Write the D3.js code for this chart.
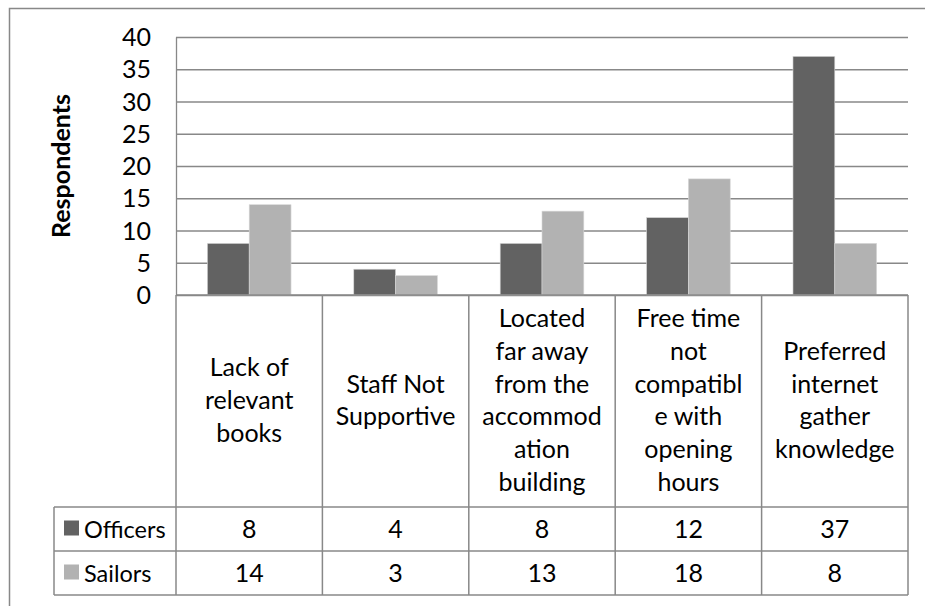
<!DOCTYPE html>
<html>
<head>
<meta charset="utf-8">
<script src="https://cdn.jsdelivr.net/npm/d3@7"></script>
<style>
  html, body { margin: 0; padding: 0; background: #fff; }
  svg { display: block; }
  text { font-family: Lato, "Open Sans", sans-serif; fill: #000; }
</style>
</head>
<body>
<svg id="chart" width="925" height="606"></svg>
<script>
// ---- data ----
const categories = [
  "Lack of relevant books",
  "Staff Not Supportive",
  "Located far away from the accommodation building",
  "Free time not compatible with opening hours",
  "Preferred internet gather knowledge"
];
const categoryLines = [
  ["Lack of", "relevant", "books"],
  ["Staff Not", "Supportive"],
  ["Located", "far away", "from the", "accommod", "ation", "building"],
  ["Free time", "not", "compatibl", "e with", "opening", "hours"],
  ["Preferred", "internet", "gather", "knowledge"]
];
const seriesNames = ["Officers", "Sailors"];
const officers = [8, 4, 8, 12, 37];
const sailors = [14, 3, 13, 18, 8];
const yTicks = [0, 5, 10, 15, 20, 25, 30, 35, 40];
const colors = ["#626262", "#b2b2b2"];
const yTitle = "Respondents";

// ---- layout ----
const FS = 25;
const svg = d3.select("#chart");
const plot = { left: 176, right: 908, top: 37, bottom: 295 };
const table = { legendLeft: 54, labelBottom: 507, row1Bottom: 551, row2Bottom: 595 };
const lineColor = "#888888";

// outer frame (cropped at right/bottom)
svg.append("path")
  .attr("d", `M9.5,606 L9.5,8.5 L925,8.5`)
  .attr("fill", "none").attr("stroke", lineColor).attr("stroke-width", 1.5);

const x0 = d3.scaleBand().domain(categories).range([plot.left, plot.right]).paddingInner(0).paddingOuter(0);
const x1 = d3.scaleBand().domain(seriesNames).range([0, x0.bandwidth()]).paddingInner(0).paddingOuter(0.75);
const y = d3.scaleLinear().domain([0, 40]).range([plot.bottom, plot.top]);

// y axis with gridlines
const yAxis = d3.axisLeft(y).tickValues(yTicks).tickSizeInner(-(plot.right - plot.left)).tickSizeOuter(0).tickPadding(25);
const gy = svg.append("g").attr("transform", `translate(${plot.left},0)`).call(yAxis);
gy.select(".domain").attr("stroke", lineColor).attr("stroke-width", 1.3);
gy.selectAll(".tick line").attr("stroke", lineColor).attr("stroke-width", 1.3);
gy.selectAll(".tick text")
  .attr("font-family", "Lato, sans-serif").attr("font-size", FS).attr("fill", "#000")
  .attr("dy", "0.34em");

// y title
svg.append("text")
  .attr("transform", `translate(70,166) rotate(-90)`)
  .attr("text-anchor", "middle")
  .attr("font-size", FS).attr("font-weight", "bold")
  .text(yTitle);

// bars
const seriesData = [officers, sailors];
const groups = svg.append("g");
seriesNames.forEach((s, si) => {
  groups.selectAll(".bar-" + si)
    .data(categories)
    .enter().append("rect")
    .attr("x", (c) => x0(c) + x1(s))
    .attr("y", (c, i) => y(seriesData[si][i]))
    .attr("width", x1.bandwidth())
    .attr("height", (c, i) => y(0) - y(seriesData[si][i]))
    .attr("fill", colors[si])
    .attr("stroke", "#d8d8d8").attr("stroke-width", 0.6);
});

// table lines
const tl = svg.append("g").attr("stroke", lineColor).attr("stroke-width", 1.5).attr("fill", "none");
tl.append("line").attr("x1", plot.left).attr("x2", plot.right).attr("y1", plot.bottom).attr("y2", plot.bottom);
[table.labelBottom, table.row1Bottom, table.row2Bottom].forEach(yy =>
  tl.append("line").attr("x1", table.legendLeft).attr("x2", plot.right).attr("y1", yy).attr("y2", yy));
const bounds = categories.map(c => x0(c)).concat([x0.range()[1]]);
bounds.forEach((xx) => {
  tl.append("line").attr("x1", xx).attr("x2", xx)
    .attr("y1", plot.bottom).attr("y2", table.row2Bottom);
});
tl.append("line").attr("x1", table.legendLeft).attr("x2", table.legendLeft)
  .attr("y1", table.labelBottom).attr("y2", table.row2Bottom);

// category labels
const labelCenterY = (plot.bottom + table.labelBottom) / 2;
const lineH = 32.7;
categories.forEach((c, i) => {
  const lines = categoryLines[i];
  const n = lines.length;
  const t = svg.append("text")
    .attr("text-anchor", "middle").attr("font-size", FS);
  lines.forEach((ln, k) => {
    t.append("tspan")
      .attr("x", x0(c) + x0.bandwidth() / 2)
      .attr("y", labelCenterY + 8 + (k - (n - 1) / 2) * lineH)
      .text(ln);
  });
});

// data rows
const rowTops = [table.labelBottom, table.row1Bottom];
const rowH = table.row1Bottom - table.labelBottom;
seriesNames.forEach((s, si) => {
  const cy = rowTops[si] + rowH / 2;
  svg.append("rect")
    .attr("x", 64).attr("y", cy - 8.5).attr("width", 15).attr("height", 15)
    .attr("fill", colors[si]);
  svg.append("text").attr("x", 84).attr("y", cy + 8.5)
    .attr("font-size", 23.5).text(s);
  categories.forEach((c, i) => {
    svg.append("text")
      .attr("x", x0(c) + x0.bandwidth() / 2).attr("y", cy + 8.5)
      .attr("text-anchor", "middle").attr("font-size", FS)
      .text(seriesData[si][i]);
  });
});
</script>
</body>
</html>
